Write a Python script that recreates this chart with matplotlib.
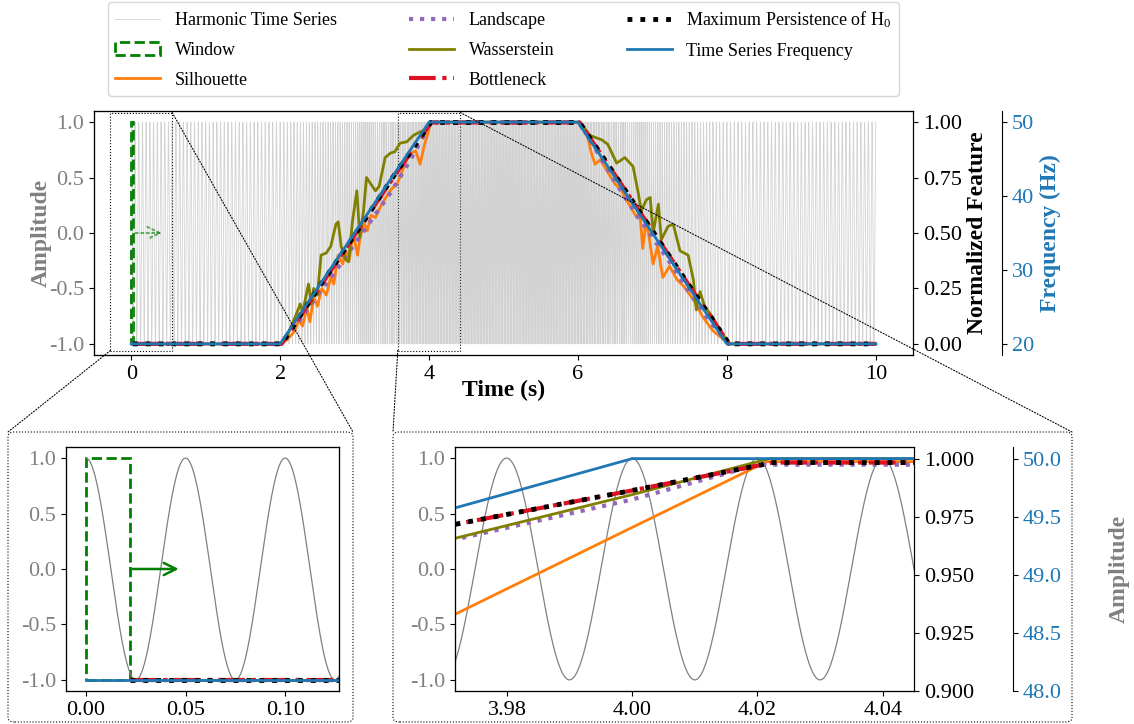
import numpy as np
import matplotlib.pyplot as plt
from matplotlib.patches import Rectangle, FancyBboxPatch, ConnectionPatch
from matplotlib.ticker import FormatStrFormatter

plt.rcParams['font.family'] = ['Liberation Serif', 'DejaVu Serif']
plt.rcParams['mathtext.fontset'] = 'stix'

# frequency profile of the harmonic signal (Hz)
freq_t = [0, 2, 4, 6, 8, 10]
freq_hz = [20, 20, 50, 50, 20, 20]
win_len = 0.022

# normalized features (window end time, value)
sil_t = [0.022, 2.00, 2.10, 2.20, 2.25, 2.30, 2.36, 2.40, 2.45, 2.50, 2.56, 2.62, 2.68, 2.72,
         2.78, 2.84, 2.88, 2.93, 2.98, 3.04, 3.07, 3.12, 3.17, 3.22, 3.28, 3.35, 3.42, 3.50,
         3.57, 3.63, 3.70, 3.76, 3.82, 3.88, 3.94, 3.9717, 4.00, 4.0215, 6.03, 6.12, 6.18,
         6.23, 6.30, 6.39, 6.50, 6.57, 6.65, 6.79, 6.83, 6.87, 6.92, 7.01, 7.07, 7.14, 7.23,
         7.33, 7.42, 7.55, 7.68, 7.81, 7.92, 8.02, 10.0]
sil_v = [0, 0, 0.02, 0.06, 0.11, 0.08, 0.16, 0.10, 0.21, 0.17, 0.25, 0.22, 0.30, 0.27,
         0.40, 0.36, 0.42, 0.38, 0.50, 0.40, 0.47, 0.55, 0.51, 0.58, 0.57, 0.62, 0.66, 0.70,
         0.72, 0.77, 0.83, 0.86, 0.87, 0.81, 0.90, 0.933, 0.9704, 0.9987, 0.9987, 0.95, 0.86,
         0.81, 0.83, 0.78, 0.72, 0.70, 0.65, 0.57, 0.60, 0.43, 0.56, 0.36, 0.44, 0.30, 0.35,
         0.29, 0.26, 0.20, 0.12, 0.06, 0.03, 0.0, 0.0]

was_t = [0.022, 2.00, 2.10, 2.20, 2.27, 2.30, 2.35, 2.38, 2.42, 2.45, 2.50, 2.55, 2.62, 2.68,
         2.75, 2.78, 2.82, 2.88, 2.92, 2.97, 3.03, 3.07, 3.12, 3.16, 3.22, 3.28, 3.33, 3.41,
         3.48, 3.54, 3.61, 3.70, 3.79, 3.88, 3.9717, 4.00, 4.0219, 6.03, 6.16, 6.32, 6.40,
         6.52, 6.63, 6.74, 6.81, 6.85, 6.92, 6.97, 7.01, 7.08, 7.12, 7.21, 7.28, 7.37, 7.48,
         7.55, 7.59, 7.64, 7.70, 7.81, 7.93, 8.04, 10.0]
was_v = [0, 0, 0.04, 0.12, 0.18, 0.14, 0.22, 0.27, 0.18, 0.25, 0.22, 0.40, 0.41, 0.44,
         0.54, 0.55, 0.44, 0.38, 0.37, 0.55, 0.69, 0.48, 0.60, 0.75, 0.72, 0.69, 0.71, 0.84,
         0.86, 0.866, 0.905, 0.911, 0.94, 0.956, 0.9657, 0.9845, 1.0, 1.0, 0.94, 0.92, 0.90,
         0.815, 0.84, 0.80, 0.68, 0.60, 0.65, 0.66, 0.50, 0.63, 0.47, 0.53, 0.54, 0.42, 0.40,
         0.29, 0.153, 0.236, 0.17, 0.12, 0.05, 0.0, 0.0]

land_t = [0.022, 2.02, 2.25, 2.50, 2.75, 3.00, 3.25, 3.50, 3.75, 3.9717, 4.00, 4.02,
          6.02, 6.25, 6.50, 6.75, 7.00, 7.25, 7.50, 7.75, 8.02, 10.0]
land_v = [0, 0, 0.10, 0.22, 0.33, 0.45, 0.57, 0.69, 0.83, 0.9652, 0.9824, 0.9974,
          0.9974, 0.87, 0.73, 0.60, 0.48, 0.36, 0.23, 0.11, 0, 0]

bott_t = [0.022, 2.02, 2.50, 3.00, 3.50, 3.9717, 4.00, 4.0225, 6.02, 6.50, 7.00, 7.50, 8.03, 10.0]
bott_v = [0, 0, 0.24, 0.49, 0.74, 0.9717, 0.9863, 0.9983, 0.9983, 0.76, 0.51, 0.26, 0, 0]

maxp_t = [0.022, 2.02, 2.50, 3.00, 3.50, 3.9717, 4.00, 4.0225, 6.02, 6.50, 7.00, 7.50, 8.03, 10.0]
maxp_v = [0, 0, 0.245, 0.49, 0.745, 0.9717, 0.9863, 0.9983, 0.9983, 0.76, 0.51, 0.26, 0, 0]

BLUE = '#1f77b4'
ORANGE = '#ff7f0e'
PURPLE = '#9467bd'
OLIVE = '#808000'
RED = '#dd1122'

# harmonic signal from the frequency profile
t = np.linspace(0, 10, 100001)
f = np.interp(t, freq_t, freq_hz)
phase = np.concatenate([[0], np.cumsum((f[1:] + f[:-1]) / 2 * np.diff(t))])
signal = np.cos(2 * np.pi * phase)


def draw_features(a2, a3, lw=2):
    a2.plot(sil_t, sil_v, color=ORANGE, lw=lw, label='Silhouette')
    a2.plot(land_t, land_v, color=PURPLE, lw=lw + 1, ls=':', label='Landscape')
    a2.plot(was_t, was_v, color=OLIVE, lw=lw, label='Wasserstein')
    a2.plot(bott_t, bott_v, color=RED, lw=lw + 1, ls='-.', label='Bottleneck')
    a2.plot(maxp_t, maxp_v, color='black', lw=lw + 1.5, ls=':',
            label='Maximum Persistence of $\\mathregular{H_0}$')
    a3.plot(freq_t, freq_hz, color=BLUE, lw=lw, label='Time Series Frequency')


TICK = 16
LAB = 17

fig = plt.figure(figsize=(11.34, 7.24), dpi=100)

# main panel
ax = fig.add_axes([0.0829, 0.5097, 0.7222, 0.337])
ax.plot(t, signal, color='gray', lw=0.6, alpha=0.35, label='Harmonic Time Series')
win = Rectangle((0, -1), win_len, 2, fill=False, ec='green', ls='--', lw=2, label='Window')
ax.add_patch(win)
ax.annotate('', xy=(0.45, 0), xytext=(win_len, 0),
            arrowprops=dict(arrowstyle='->', color='green', ls=':', lw=1.5, alpha=0.6,
                            mutation_scale=22))
ax.set_xlim(-0.5, 10.5)
ax.set_ylim(-1.1, 1.1)
ax.set_xticks([0, 2, 4, 6, 8, 10])
ax.set_yticks([-1.0, -0.5, 0.0, 0.5, 1.0])
ax.yaxis.set_major_formatter(FormatStrFormatter('%.1f'))
ax.tick_params(labelsize=TICK)
ax.tick_params(axis='y', labelcolor='gray')
ax.set_xlabel('Time (s)', fontsize=LAB, fontweight='bold', labelpad=-3)
ax.set_ylabel('Amplitude', fontsize=LAB, fontweight='bold', color='gray', labelpad=-2)

ax2 = ax.twinx()
ax3 = ax.twinx()
draw_features(ax2, ax3)
ax2.set_ylim(-0.05, 1.05)
ax2.set_yticks([0, 0.25, 0.5, 0.75, 1.0])
ax2.yaxis.set_major_formatter(FormatStrFormatter('%.2f'))
ax2.tick_params(labelsize=TICK)
ax2.set_ylabel('Normalized Feature', fontsize=LAB, fontweight='bold')
ax3.spines['right'].set_position(('axes', 1.1087))
ax3.set_ylim(18.5, 51.5)
ax3.set_yticks([20, 30, 40, 50])
ax3.tick_params(labelsize=TICK, labelcolor=BLUE)
ax3.set_ylabel('Frequency (Hz)', fontsize=LAB, fontweight='bold', color=BLUE)

h1, l1 = ax.get_legend_handles_labels()
h2, l2 = ax2.get_legend_handles_labels()
h3, l3 = ax3.get_legend_handles_labels()
ax.legend(h1 + h2 + h3, l1 + l2 + l3, loc='lower center', bbox_to_anchor=(0.5, 1.025),
          ncol=3, fontsize=13, columnspacing=4.0, handlelength=2.5, labelspacing=0.7)

# zoom markers on the main panel
zoom_l = (-0.28, 0.55)
zoom_r = (3.58, 4.42)
zoom_y = (-1.06, 1.086)
for x0, x1 in (zoom_l, zoom_r):
    ax.add_patch(Rectangle((x0, zoom_y[0]), x1 - x0, zoom_y[1] - zoom_y[0], fill=False,
                           ec='black', ls=':', lw=0.8))

box_top = 1 - 432 / 724
box_bot = 1 - 722 / 724
box_l = (8 / 1134, 353 / 1134)
box_r = (393 / 1134, 1072 / 1134)
for bx in (box_l, box_r):
    fig.add_artist(FancyBboxPatch((bx[0], box_bot), bx[1] - bx[0], box_top - box_bot,
                                  boxstyle='round,pad=0,rounding_size=0.006',
                                  transform=fig.transFigure, fill=False, ec='black',
                                  ls=':', lw=0.8))
for xy, xyb in [((zoom_l[0], zoom_y[0]), (box_l[0], box_top)),
                ((zoom_l[1], zoom_y[1]), (box_l[1], box_top)),
                ((zoom_r[0], zoom_y[0]), (box_r[0], box_top)),
                ((zoom_r[1], zoom_y[1]), (box_r[1], box_top))]:
    fig.add_artist(ConnectionPatch(xyA=xy, coordsA=ax.transData, xyB=xyb,
                                   coordsB='figure fraction', ls=':', lw=0.8, color='black'))

# left inset
axl = fig.add_axes([0.0582, 0.0456, 0.2407, 0.337])
axl.plot(t, signal, color='gray', lw=0.9)
axl.add_patch(Rectangle((0, -1), win_len, 2, fill=False, ec='green', ls='--', lw=2))
axl.annotate('', xy=(0.048, 0), xytext=(win_len, 0),
             arrowprops=dict(arrowstyle='->', color='green', lw=1.8, mutation_scale=22))
axl.set_xlim(-0.01, 0.127)
axl.set_ylim(-1.1, 1.1)
axl.set_xticks([0, 0.05, 0.10])
axl.xaxis.set_major_formatter(FormatStrFormatter('%.2f'))
axl.set_yticks([-1.0, -0.5, 0.0, 0.5, 1.0])
axl.yaxis.set_major_formatter(FormatStrFormatter('%.1f'))
axl.tick_params(labelsize=TICK)
axl.tick_params(axis='y', labelcolor='gray')
axl2 = axl.twinx()
axl3 = axl.twinx()
draw_features(axl2, axl3)
axl2.set_ylim(-0.05, 1.05)
axl3.set_ylim(18.5, 51.5)
axl2.set_yticks([])
axl3.set_yticks([])

# right inset
axr = fig.add_axes([0.4012, 0.0456, 0.4048, 0.337])
axr.plot(t, signal, color='gray', lw=0.9)
axr.set_xlim(3.9717, 4.045)
axr.set_ylim(-1.1, 1.1)
axr.set_xticks([3.98, 4.00, 4.02, 4.04])
axr.xaxis.set_major_formatter(FormatStrFormatter('%.2f'))
axr.set_yticks([-1.0, -0.5, 0.0, 0.5, 1.0])
axr.yaxis.set_major_formatter(FormatStrFormatter('%.1f'))
axr.tick_params(labelsize=TICK)
axr.tick_params(axis='y', labelcolor='gray')
axr.set_ylabel('Amplitude', fontsize=LAB, fontweight='bold', color='gray')
axr.yaxis.set_label_coords(1.47, 0.5)
axr2 = axr.twinx()
axr3 = axr.twinx()
draw_features(axr2, axr3)
axr2.set_ylim(0.9, 1.005)
axr2.set_yticks([0.9, 0.925, 0.95, 0.975, 1.0])
axr2.yaxis.set_major_formatter(FormatStrFormatter('%.3f'))
axr2.tick_params(labelsize=TICK)
axr3.spines['right'].set_position(('axes', 1.2157))
axr3.set_ylim(48, 50.1)
axr3.set_yticks([48.0, 48.5, 49.0, 49.5, 50.0])
axr3.yaxis.set_major_formatter(FormatStrFormatter('%.1f'))
axr3.tick_params(labelsize=TICK, labelcolor=BLUE)

fig.savefig('out.png', dpi=100)
